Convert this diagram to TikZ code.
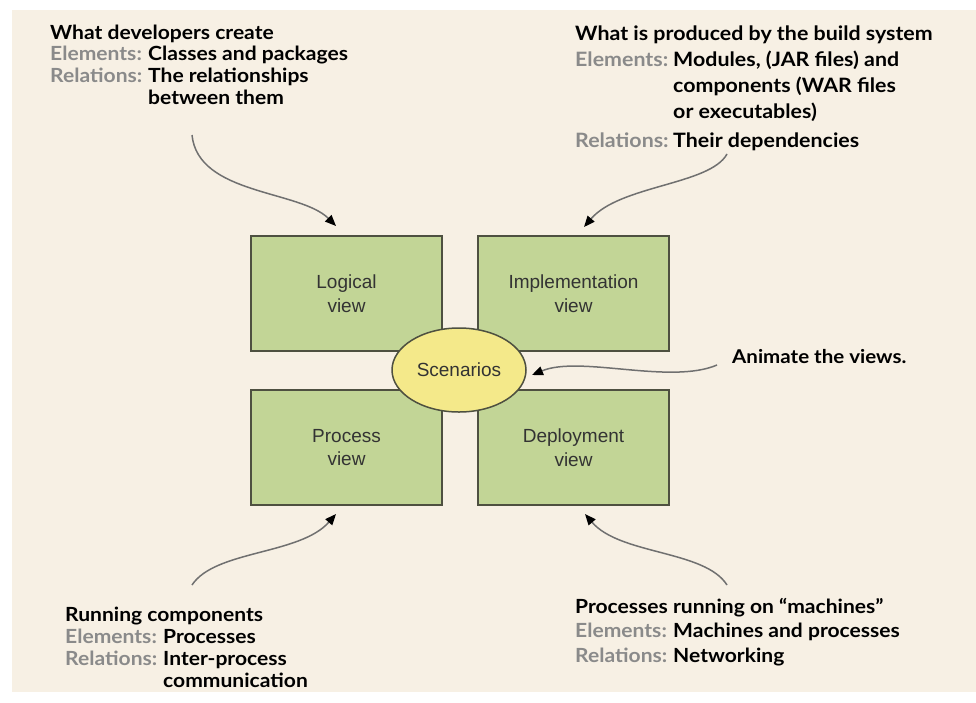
\documentclass[tikz,border=0pt]{standalone}
\usepackage{fontspec}
\setmainfont{Lato}
\setsansfont{Liberation Sans}
\newfontfamily\annofont[FakeStretch=1.08]{Lato}
\usetikzlibrary{arrows.meta,shapes.geometric}
\definecolor{bg}{HTML}{F7F0E4}
\definecolor{boxfill}{HTML}{C2D596}
\definecolor{boxline}{HTML}{4E5040}
\definecolor{ellfill}{HTML}{F4E98A}
\definecolor{lblgray}{HTML}{8A8A8A}
\definecolor{arrgray}{HTML}{707070}
\definecolor{viewtext}{HTML}{333333}
\newcommand{\lbl}[1]{\makebox[98pt][l]{\color{lblgray}#1}}
\newcommand{\nolbl}{\hspace*{98pt}}
\tikzset{
  viewbox/.style={draw=boxline, fill=boxfill, line width=1.5pt, minimum width=191pt, minimum height=115pt, inner sep=0pt, align=center, font=\sffamily\fontsize{19}{23.5}\selectfont, text=viewtext},
  scen/.style={ellipse, draw=boxline, fill=ellfill, line width=1.5pt, minimum width=134pt, minimum height=84pt, inner sep=0pt, font=\sffamily\fontsize{19}{23}\selectfont, text=viewtext},
  anno/.style={inner sep=0pt, anchor=base west, text=black},
  conn/.style={draw=arrgray, line width=1.5pt, -{Triangle[length=11pt,width=9pt,fill=black,color=black]}}
}
\begin{document}
\begin{tikzpicture}[x=1pt,y=-1pt]
\useasboundingbox (0,0) rectangle (976,702);
\fill[white] (0,0) rectangle (976,702);
\begin{scope}
\clip (12,10) rectangle (976,692);
\fill[bg] (12,10) rectangle (976,692);

\node[viewbox] (logical) at (346.5,293.5) {Logical\\view};
\node[viewbox] (impl) at (573.5,293.5) {Implementation\\view};
\node[viewbox] (process) at (346.5,447.5) {Process\\view};
\node[viewbox] (deploy) at (573.5,447.5) {Deployment\\view};
\node[scen] (scen) at (459,370) {Scenarios};

\node[anno, font=\annofont\bfseries\fontsize{19.5}{21.7}\selectfont] (tl) at (50,39) {\begin{tabular}[t]{@{}l@{}}
What developers create\\
\lbl{Elements:}Classes and packages\\
\lbl{Relations:}The relationships\\
\nolbl between them
\end{tabular}};

\node[anno, font=\annofont\bfseries\fontsize{19.8}{26}\selectfont] (tr) at (575,40) {\begin{tabular}[t]{@{}l@{}}
What is produced by the build system\\
\lbl{Elements:}Modules, (JAR files) and\\
\nolbl components (WAR files\\
\nolbl or executables)\\[3pt]
\lbl{Relations:}Their dependencies
\end{tabular}};

\node[anno, font=\annofont\bfseries\fontsize{19.5}{22}\selectfont] (bl) at (65,621) {\begin{tabular}[t]{@{}l@{}}
Running components\\
\lbl{Elements:}Processes\\
\lbl{Relations:}Inter-process\\
\nolbl communication
\end{tabular}};

\node[anno, font=\annofont\bfseries\fontsize{19.5}{24.5}\selectfont] (br) at (575,613) {\begin{tabular}[t]{@{}l@{}}
Processes running on “machines”\\
\lbl{Elements:}Machines and processes\\
\lbl{Relations:}Networking
\end{tabular}};

\node[anno, font=\annofont\bfseries\fontsize{19}{24}\selectfont] (anim) at (732,363) {Animate the views.};

\coordinate (tls) at (192,135);
\coordinate (tle) at (336,226);
\coordinate (trs) at (727,154);
\coordinate (tre) at (584,227);
\coordinate (bls) at (192,585);
\coordinate (ble) at (336,514);
\coordinate (brs) at (727,585);
\coordinate (bre) at (585,514);
\coordinate (ans) at (717,365);
\coordinate (ane) at (532,375);

\draw[conn] (tls) .. controls (198,195) and (300,190) .. (tle);
\draw[conn] (trs) .. controls (710,185) and (620,185) .. (tre);
\draw[conn] (bls) .. controls (215,550) and (300,555) .. (ble);
\draw[conn] (brs) .. controls (705,550) and (620,555) .. (bre);
\draw[conn] (ans) .. controls (670,385) and (580,355) .. (ane);
\end{scope}
\end{tikzpicture}
\end{document}
